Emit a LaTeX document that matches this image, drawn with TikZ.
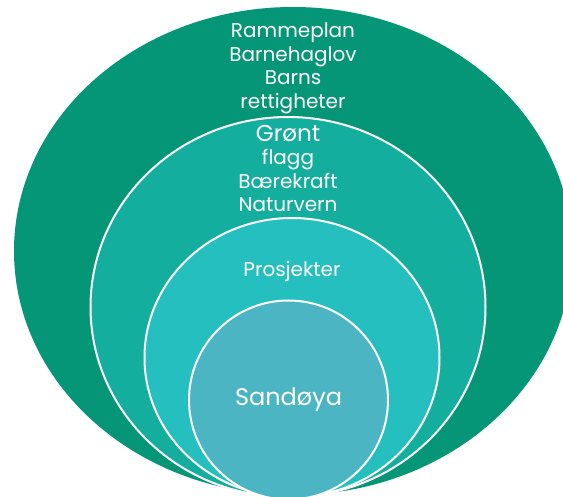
\documentclass[tikz,border=0pt]{standalone}
\usepackage{fontspec}
\setmainfont{Poppins}
\usepackage{xcolor}
\usepackage{tikz}
\usetikzlibrary{shapes,positioning}

\definecolor{outerteal}{RGB}{4,150,118}
\definecolor{midteal}{RGB}{19,174,158}
\definecolor{innerteal}{RGB}{38,191,192}
\definecolor{coreblue}{RGB}{75,181,196}

\begin{document}
\begin{tikzpicture}[
    x=1pt, y=-1pt,
    ring/.style={ellipse, draw=white, line width=2pt, inner sep=0pt},
    ringtext/.style={text=white, align=center, inner sep=0pt, font=\fontsize{20}{23.5}\selectfont}
]
    % Page
    \fill[white] (0,0) rectangle (563,497);
    \useasboundingbox (0,0) rectangle (563,497);

    % Outer ring
    \node[ring, draw=none, fill=outerteal, minimum width=558pt, minimum height=488pt] (frame) at (293,251) {};
    \node[ringtext, below=17pt of frame.north] (frametext) {Rammeplan\\Barnehaglov\\Barns\\rettigheter};

    % Green flag ring
    \node[ring, fill=midteal, minimum width=395pt, minimum height=380pt] (flag) at (288,307) {};
    \node[ringtext, below=9pt of flag.north] (flagtext) {{\fontsize{23}{23.5}\selectfont Grønt}\\flagg\\Bærekraft\\Naturvern};

    % Projects ring
    \node[ring, fill=innerteal, minimum width=295pt, minimum height=279pt] (projects) at (292,357.5) {};
    \node[ringtext, below=44pt of projects.north] (projectstext) {Prosjekter};

    % Core
    \node[ring, circle, fill=coreblue, minimum size=199pt, text=white, font=\fontsize{24}{28}\selectfont] (sandoya) at (288.5,400) {Sandøya};

\end{tikzpicture}
\end{document}
